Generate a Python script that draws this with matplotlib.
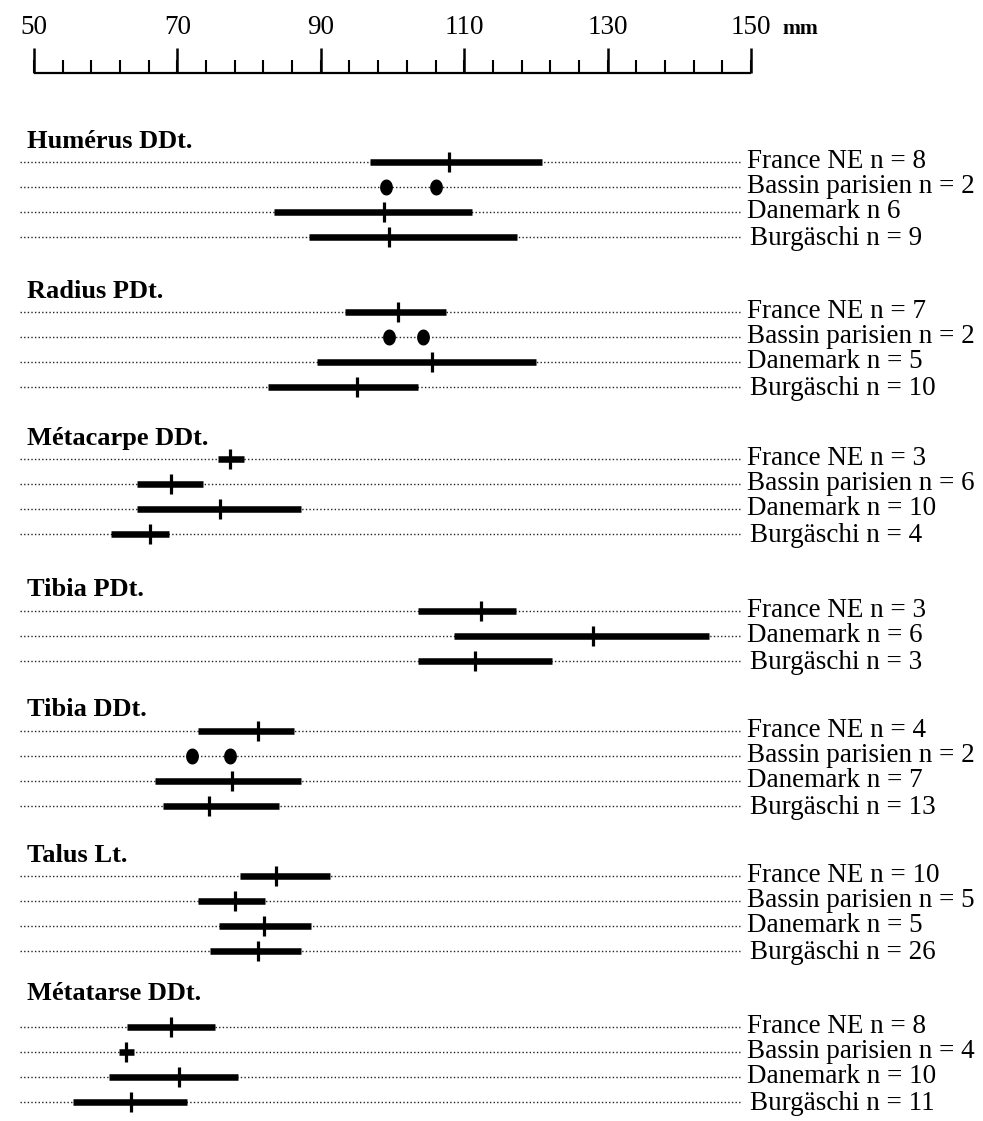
import numpy as np
import matplotlib
matplotlib.use("Agg")
import matplotlib.pyplot as plt
from matplotlib.path import Path

# ---------------- data ----------------
groups = ["Humérus DDt.", "Radius PDt.", "Métacarpe DDt.", "Tibia PDt.",
          "Tibia DDt.", "Talus Lt.", "Métatarse DDt."]

row_labels = [
    ["France NE n = 8", "Bassin parisien n = 2", "Danemark n 6", "Burgäschi n = 9"],
    ["France NE n = 7", "Bassin parisien n = 2", "Danemark n = 5", "Burgäschi n = 10"],
    ["France NE n = 3", "Bassin parisien n = 6", "Danemark n = 10", "Burgäschi n = 4"],
    ["France NE n = 3", "Danemark n = 6", "Burgäschi n = 3"],
    ["France NE n = 4", "Bassin parisien n = 2", "Danemark n = 7", "Burgäschi n = 13"],
    ["France NE n = 10", "Bassin parisien n = 5", "Danemark n = 5", "Burgäschi n = 26"],
    ["France NE n = 8", "Bassin parisien n = 4", "Danemark n = 10", "Burgäschi n = 11"],
]

# min / max / mean (None where only individual values are shown)
lows = [
    [96.9, None, 83.5, 88.4],
    [93.4, None, 89.5, 82.7],
    [75.7, 64.4, 64.4, 60.7],
    [103.5, 108.6, 103.5],
    [72.9, None, 66.9, 68.0],
    [78.7, 72.9, 75.8, 74.6],
    [63.0, 61.9, 60.5, 55.4],
]
highs = [
    [120.9, None, 111.1, 117.3],
    [107.4, None, 120.0, 103.5],
    [79.3, 73.6, 87.2, 68.8],
    [117.2, 144.2, 122.2],
    [86.2, None, 87.2, 84.2],
    [91.3, 82.2, 88.7, 87.2],
    [75.2, 64.0, 78.5, 71.4],
]
means = [
    [107.9, None, 98.8, 99.5],
    [100.8, None, 105.5, 95.0],
    [77.3, 69.1, 75.9, 66.2],
    [112.3, 128.0, 111.5],
    [81.3, None, 77.6, 74.4],
    [83.7, 78.0, 82.1, 81.3],
    [69.1, 62.9, 70.2, 63.5],
]
# individual values (n = 2)
points = [
    [None, [99.1, 106.1], None, None],
    [None, [99.5, 104.3], None, None],
    [None, None, None, None],
    [None, None, None],
    [None, [72.0, 77.3], None, None],
    [None, None, None, None],
    [None, None, None, None],
]

scale_major = [50, 70, 90, 110, 130, 150]
scale_unit = "mm"

# ---------------- layout (pixels) ----------------
W, H = 983, 1121
PX50, PX150 = 34, 751
def mm(px):
    return 50 + (px - PX50) * 100.0 / (PX150 - PX50)

title_y = [142, 291, 438, 589, 710, 855, 993]
first_gap = [20, 21, 21, 22, 21, 21, 34]
row_step = 25
ruler_y = 73
major_len, minor_len = 25, 13
label_y = 27

FONT = "Liberation Serif"
FS = 19.5

fig = plt.figure(figsize=(W / 100, H / 100), dpi=100)
ax = fig.add_axes([0, 0, 1, 1])
ax.set_xlim(mm(0), mm(W))
ax.set_ylim(H, 0)
ax.axis("off")

# ruler
ax.plot([scale_major[0], scale_major[-1]], [ruler_y, ruler_y], color="black", lw=1.6,
        solid_capstyle="butt")
minor = np.arange(scale_major[0], scale_major[-1] + 1, 4)
ax.vlines(minor, ruler_y - minor_len, ruler_y, color="black", lw=1.5)
ax.vlines(scale_major, ruler_y - major_len, ruler_y, color="black", lw=1.8)
for v in scale_major:
    ax.text(v, label_y, str(v), ha="center", va="center", fontsize=FS, family=FONT)
ax.text(mm(782), label_y + 2, scale_unit, ha="left", va="center", fontsize=FS - 4,
        family=FONT, fontweight="bold")

# ellipse marker
t = np.linspace(0, 2 * np.pi, 40)
ell = Path(np.column_stack([0.78 * np.cos(t), np.sin(t)]), closed=True)

for gi, g in enumerate(groups):
    ty = title_y[gi]
    ax.text(mm(27), ty, g, ha="left", va="center", fontsize=FS - 0.5, fontweight="bold",
            family=FONT)
    for ri, lab in enumerate(row_labels[gi]):
        y = ty + first_gap[gi] + ri * row_step
        ax.plot([mm(20), mm(742)], [y, y], color="#222222", lw=1.0,
                linestyle=(0, (1, 1.6)), zorder=1)
        burg = lab.startswith("Burg")
        lx = 750 if burg else 747
        ax.text(mm(lx), y + (8 if burg else 6), lab, ha="left", va="baseline",
                fontsize=FS, family=FONT)
        if points[gi][ri] is not None:
            p = points[gi][ri]
            ax.plot(p, [y] * len(p), linestyle="none", marker=ell, markersize=10.5,
                    color="black", zorder=3)
        if lows[gi][ri] is not None:
            ax.plot([lows[gi][ri], highs[gi][ri]], [y, y], color="black", lw=4.7,
                    solid_capstyle="butt", zorder=2)
            ax.vlines(means[gi][ri], y - 10, y + 10, color="black", lw=2.3, zorder=3)

fig.savefig("out.png", dpi=100)
